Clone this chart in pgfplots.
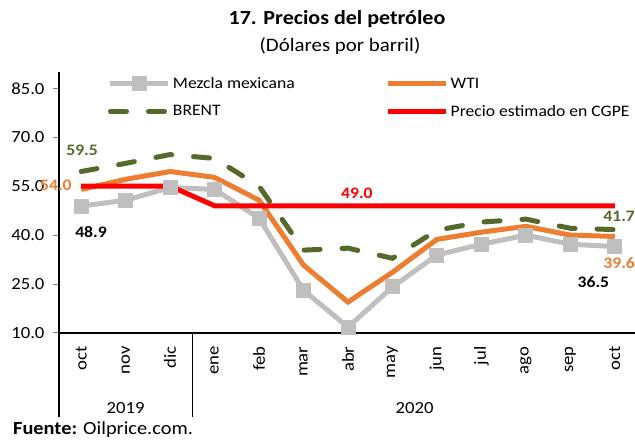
\documentclass[border=0pt]{standalone}
\usepackage{pgfplots}
\pgfplotsset{compat=1.18}
\usepackage{fontspec}
\setmainfont{Carlito}[FakeStretch=1.1]
\definecolor{mgray}{RGB}{191,191,191}
\definecolor{wti}{RGB}{237,125,49}
\definecolor{brent}{RGB}{84,106,43}
\definecolor{cgpe}{RGB}{255,0,0}

\begin{document}
\begin{tikzpicture}
\useasboundingbox (0pt,0pt) rectangle (635pt,442pt);
\node[font=\fontsize{20}{22}\selectfont\bfseries] at (337pt,423pt) {17. Precios del petróleo};
\node[font=\fontsize{19}{21}\selectfont] at (340pt,396pt) {(Dólares por barril)};
\node[anchor=west,font=\fontsize{18.5}{20}\selectfont,inner sep=0pt] at (13pt,12pt) {\textbf{Fuente:} Oilprice.com.};
\begin{axis}[
    at={(59pt,109pt)}, anchor=south west,
    scale only axis, width=578pt, height=261pt,
    xmin=-0.5, xmax=12.5, ymin=10, ymax=90,
    axis x line=bottom, axis y line=left,
    axis line style={-, line width=1.2pt},
    ytick={10,25,40,55,70,85},
    yticklabel style={xshift=-5pt,/pgf/number format/.cd,fixed,fixed zerofill,precision=1,assume math mode=true},
    tick align=outside,
    major tick length=6pt,
    ytick style={line width=1pt},
    xtick={0,...,12},
    xticklabels={oct,nov,dic,ene,feb,mar,abr,may,jun,jul,ago,sep,oct},
    xticklabel style={rotate=90, anchor=east},
    xticklabel shift=4pt,
    x tick style={draw=none},
    tick label style={font=\fontsize{17}{19}\selectfont},
    clip=false,
    legend columns=2,
    legend cell align=left,
    legend style={at={(axis cs:0.53,89.6)}, anchor=north west, draw=none, fill=none,
        font=\fontsize{16}{18}\selectfont, row sep=11pt,
        /tikz/every even column/.append style={column sep=89pt}},
    legend image code/.code={\draw[mark repeat=2,mark phase=2,#1] plot coordinates {(0pt,0pt) (29pt,0pt) (58pt,0pt)};},
]
\addplot[mgray, line width=5pt, mark=square*, mark size=5pt, mark options={solid}] coordinates {
(0,48.9) (1,50.7) (2,54.6) (3,54.0) (4,45.2) (5,23.1) (6,11.8) (7,24.1) (8,33.9) (9,37.2) (10,40.0) (11,37.2) (12,36.5)};
\addlegendentry{Mezcla mexicana}
\addplot[wti, line width=5pt] coordinates {
(0,54.0) (1,57.1) (2,59.5) (3,57.7) (4,50.7) (5,30.8) (6,19.5) (7,28.6) (8,38.7) (9,40.9) (10,42.7) (11,40.0) (12,39.6)};
\addlegendentry{WTI}
\addplot[brent, line width=5pt, line cap=round, dash pattern=on 16pt off 22pt] coordinates {
(0,59.5) (1,62.0) (2,64.7) (3,63.5) (4,55.0) (5,35.4) (6,36.0) (7,32.9) (8,41.5) (9,44.0) (10,44.9) (11,42.1) (12,41.7)};
\addlegendentry{BRENT}
\addplot[cgpe, line width=5pt] coordinates {
(0,55) (1,55) (2,55) (3,49) (4,49) (5,49) (6,49) (7,49) (8,49) (9,49) (10,49) (11,49) (12,49)};
\addlegendentry{Precio estimado en CGPE}
\begin{scope}[font=\fontsize{16}{18}\selectfont\bfseries]
\node[text=brent] at (axis cs:0.02,66) {59.5};
\node[text=wti] at (axis cs:-0.57,55.3) {54.0};
\node[text=black] at (axis cs:0.22,40.9) {48.9};
\node[text=cgpe] at (axis cs:6.2,52.8) {49.0};
\node[text=brent,anchor=west,inner sep=0pt] at (axis cs:11.74,45.8) {41.7};
\node[text=wti,anchor=west,inner sep=0pt] at (axis cs:11.74,31.4) {39.6};
\node[text=black] at (axis cs:11.52,25.6) {36.5};
\end{scope}
\draw[line width=1.2pt] (axis cs:-0.5,10) -- ([yshift=-84pt]axis cs:-0.5,10);
\draw[line width=1.2pt] (axis cs:2.5,10) -- ([yshift=-84pt]axis cs:2.5,10);
\node[font=\fontsize{17}{19}\selectfont] at ([yshift=-75pt]axis cs:1,10) {2019};
\node[font=\fontsize{17}{19}\selectfont] at ([yshift=-75pt]axis cs:7.5,10) {2020};
\end{axis}
\end{tikzpicture}
\end{document}
